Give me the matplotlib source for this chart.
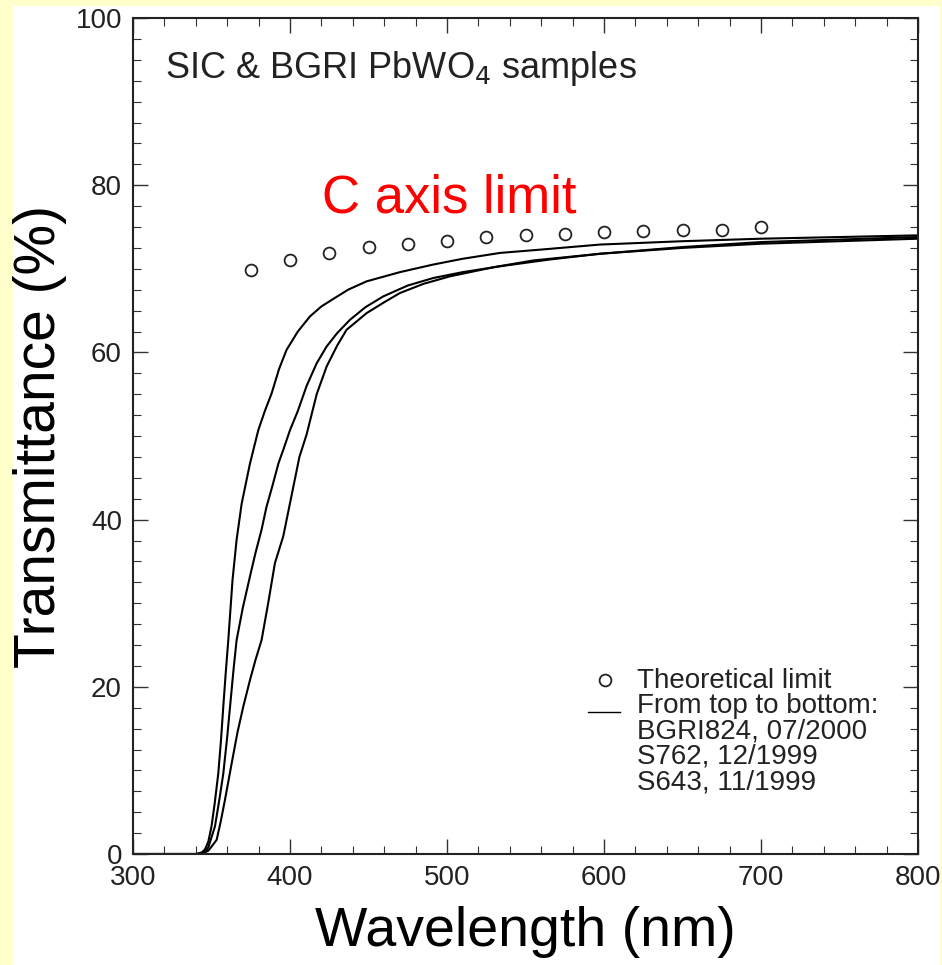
import matplotlib
matplotlib.use("Agg")
import matplotlib.pyplot as plt
from matplotlib.patches import Rectangle
from matplotlib.ticker import MultipleLocator

plt.rcParams['font.family'] = ['Liberation Sans', 'DejaVu Sans']

# theoretical limit (open circles)
theo_wl = [375, 400, 425, 450, 475, 500, 525, 550, 575, 600, 625, 650, 675, 700]
theo_t = [69.9, 71.1, 71.9, 72.6, 73.0, 73.3, 73.8, 74.0, 74.2, 74.4, 74.5, 74.6, 74.7, 75.0]

bgri824_wl = [300, 340, 344, 346, 348, 350, 352, 354.3, 356, 357.5, 359, 360.7, 363.4, 366,
              369.2, 374.5, 379.8, 384, 388.3, 393, 397.8, 405, 412.7, 420, 427.6, 437,
              448.8, 470, 491, 510, 533.8, 560, 597.5, 650, 700, 750, 800]
bgri824_t = [0, 0, 0.2, 0.6, 1.5, 3.3, 6.0, 9.6, 13.5, 17.6, 21.5, 25.6, 32.8, 37.6,
             41.9, 46.7, 50.7, 53.0, 55.1, 58.0, 60.3, 62.5, 64.3, 65.5, 66.4, 67.5,
             68.5, 69.6, 70.5, 71.2, 71.9, 72.3, 72.9, 73.3, 73.6, 73.8, 74.0]

s762_wl = [300, 342, 346, 348, 350, 352.2, 355, 357.5, 360, 361.8, 364, 366, 370, 374.5,
           378, 381.9, 385, 388.9, 392.6, 396, 400, 405, 410.6, 417, 423.3, 430, 438.2,
           448, 459.4, 475, 491.3, 510, 533.8, 565, 597.5, 650, 700, 750, 800]
s762_t = [0, 0, 0.3, 0.8, 2.0, 3.3, 6.5, 9.6, 14.0, 17.6, 22.0, 25.6, 29.5, 33.2,
          36.0, 38.8, 41.5, 44.1, 46.7, 48.5, 50.7, 53.0, 56.0, 58.7, 60.7, 62.3, 63.9,
          65.4, 66.7, 68.0, 68.9, 69.6, 70.3, 71.1, 71.8, 72.6, 73.2, 73.5, 73.8]

s643_wl = [300, 344, 348, 350.5, 353.3, 356, 358.6, 362.8, 366.5, 370.2, 374.5, 378,
           381.9, 386.1, 390.4, 395.7, 402.1, 406, 410.6, 417, 423.3, 430, 436, 448.8,
           460, 470, 485, 501.9, 530, 555, 597.5, 650, 700, 750, 800]
s643_t = [0, 0, 0.4, 1.0, 1.7, 4.0, 6.5, 10.8, 14.5, 17.6, 20.8, 23.2,
          25.6, 30.0, 34.8, 38.0, 43.9, 47.5, 50.2, 55.0, 58.3, 60.8, 62.7, 64.7,
          66.0, 67.1, 68.2, 69.1, 70.2, 71.0, 71.8, 72.5, 73.0, 73.3, 73.6]

legend_lines = ["Theoretical limit", "From top to bottom:", "BGRI824, 07/2000",
                "S762, 12/1999", "S643, 11/1999"]

fig = plt.figure(figsize=(9.42, 9.65), dpi=100, facecolor='#ffffcc')
fig.patches.append(Rectangle((13 / 942, 0), 927 / 942, 959 / 965, transform=fig.transFigure,
                             facecolor='white', edgecolor='none', zorder=-5))
ax = fig.add_axes([133 / 942, 111 / 965, 785 / 942, 836 / 965])

for wl, t in [(bgri824_wl, bgri824_t), (s762_wl, s762_t), (s643_wl, s643_t)]:
    ax.plot(wl, t, color='black', lw=1.5)
ax.plot(theo_wl, theo_t, 'o', mfc='none', mec='#222222', ms=8.5, mew=1.3)

ax.set_xlim(300, 800)
ax.set_ylim(0, 100)
ax.xaxis.set_major_locator(MultipleLocator(100))
ax.xaxis.set_minor_locator(MultipleLocator(20))
ax.yaxis.set_major_locator(MultipleLocator(20))
ax.yaxis.set_minor_locator(MultipleLocator(2.5))
ax.tick_params(which='both', direction='in', top=True, right=True, colors='#333333',
               labelsize=20, labelcolor='#222222')
ax.tick_params(which='major', length=11, width=1, pad=8)
ax.tick_params(which='minor', length=6, width=0.8)
for s in ax.spines.values():
    s.set_linewidth(1.5)
    s.set_color('#222222')

ax.set_xlabel('Wavelength (nm)', fontsize=40, labelpad=11)
ax.set_ylabel('Transmittance (%)', fontsize=41, labelpad=6)

ax.text(0.041, 0.928, 'SIC & BGRI PbWO$_4$ samples', transform=ax.transAxes,
        fontsize=26, va='baseline', color='#222222')
ax.text(420.4, 76.7, 'C axis limit', color='red', fontsize=38, va='baseline')

# hand-made legend
ax.plot([600.6], [20.8], 'o', mfc='none', mec='#222222', ms=8.5, mew=1.3)
ax.plot([589.8, 610.2], [17.0, 17.0], color='black', lw=1)
for i, line in enumerate(legend_lines):
    ax.text(621, 19.86 - i * 3.03, line, fontsize=20, va='baseline', color='#222222')

fig.savefig('out.png', dpi=100, facecolor=fig.get_facecolor())
